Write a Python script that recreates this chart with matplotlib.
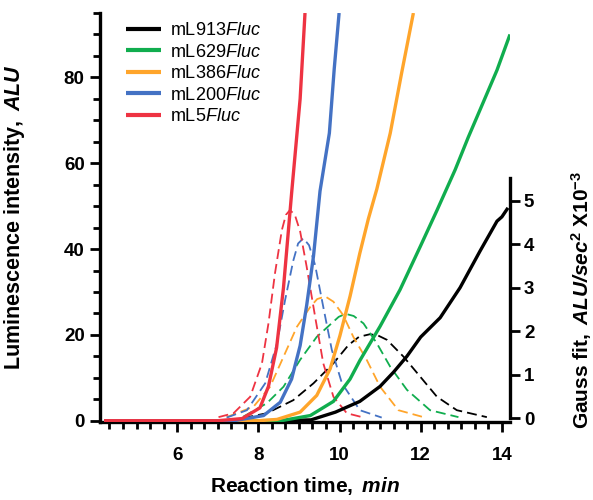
import matplotlib
matplotlib.use('Agg')
import matplotlib.pyplot as plt
from matplotlib.ticker import MultipleLocator

plt.rcParams['font.family'] = ['Liberation Sans', 'DejaVu Sans']
plt.rcParams['mathtext.fontset'] = 'custom'
plt.rcParams['mathtext.rm'] = 'Liberation Sans:weight=normal'
plt.rcParams['mathtext.it'] = 'Liberation Sans:style=italic:weight=normal'
plt.rcParams['mathtext.bf'] = 'Liberation Sans:weight=bold'
plt.rcParams['mathtext.bfit'] = 'Liberation Sans:style=italic:weight=bold'

# Luminescence curves (left axis, ALU)
labels = ['mL913', 'mL629', 'mL386', 'mL200', 'mL5']
colors = ['#000000', '#10ad4e', '#ffa52b', '#4472c4', '#ee3342']

black_t = [4.2, 8.5, 9.3, 9.9, 10.5, 11.0, 11.33, 11.66, 12.0, 12.48, 12.97, 13.46, 13.88, 14.0, 14.15]
black_y = [0, 0, 0.2, 2.0, 4.5, 8.0, 11.3, 15.0, 19.5, 24.0, 31.0, 39.5, 46.5, 47.5, 49.6]

green_t = [4.2, 8.0, 8.62, 9.28, 9.85, 10.26, 10.5, 11.0, 11.49, 11.99, 12.4, 12.85, 13.17, 13.46, 13.88, 14.2]
green_y = [0, 0, 0.1, 1.2, 4.5, 9.7, 14.0, 22.0, 30.5, 40.6, 49.0, 58.5, 66.0, 72.4, 81.7, 90.0]

orange_t = [4.2, 8.0, 8.46, 9.03, 9.44, 9.77, 10.01, 10.26, 10.5, 10.71, 10.92, 11.25, 11.53, 11.82]
orange_y = [0, 0, 0.3, 2.0, 5.9, 12.1, 19.8, 29.0, 39.0, 47.0, 54.0, 67.0, 81.0, 95.0]

blue_t = [4.2, 7.4, 8.13, 8.54, 8.82, 9.03, 9.19, 9.36, 9.52, 9.75, 9.87, 9.99]
blue_y = [0, 0, 1.2, 4.3, 9.7, 17.5, 26.8, 38.4, 53.5, 67.0, 82.0, 95.0]

red_t = [4.2, 7.0, 7.6, 8.04, 8.25, 8.45, 8.62, 8.82, 9.03, 9.15]
red_y = [0, 0, 0.5, 3.0, 8.0, 17.0, 31.0, 53.0, 75.0, 95.0]

# Gauss fits (right axis, ALU/sec^2 x10^-3)
black_gt = [7.63, 8.21, 8.86, 9.36, 9.85, 10.22, 10.48, 10.75, 10.95, 11.17, 11.58, 11.99, 12.4, 12.89, 13.63]
black_gy = [0.0, 0.11, 0.41, 0.8, 1.26, 1.68, 1.87, 1.93, 1.9, 1.8, 1.41, 0.95, 0.49, 0.18, 0.02]

green_gt = [7.63, 8.21, 8.62, 9.03, 9.44, 9.85, 9.98, 10.15, 10.35, 10.59, 10.92, 11.25, 11.66, 12.23, 12.93]
green_gy = [0.03, 0.34, 0.72, 1.34, 1.87, 2.22, 2.33, 2.4, 2.35, 2.18, 1.72, 1.18, 0.65, 0.18, 0.02]

orange_gt = [7.22, 7.88, 8.29, 8.62, 8.95, 9.28, 9.45, 9.65, 9.85, 10.09, 10.34, 10.67, 11.0, 11.45, 12.03]
orange_gy = [0.02, 0.26, 0.72, 1.41, 2.1, 2.56, 2.74, 2.8, 2.68, 2.37, 1.87, 1.34, 0.72, 0.18, 0.03]

blue_gt = [7.22, 7.72, 8.17, 8.46, 8.66, 8.86, 8.98, 9.11, 9.25, 9.4, 9.6, 9.81, 10.06, 10.5, 11.04]
blue_gy = [0.01, 0.18, 0.8, 1.72, 2.72, 3.62, 4.02, 4.14, 3.98, 3.52, 2.56, 1.57, 0.8, 0.18, 0.01]

red_gt = [7.02, 7.39, 7.8, 8.09, 8.25, 8.41, 8.58, 8.68, 8.78, 8.9, 9.03, 9.19, 9.4, 9.6, 9.85, 10.18, 10.6]
red_gy = [0.02, 0.11, 0.49, 1.26, 2.18, 3.33, 4.33, 4.68, 4.79, 4.68, 4.3, 3.49, 2.33, 1.26, 0.49, 0.11, 0.01]

solid = [(black_t, black_y), (green_t, green_y), (orange_t, orange_y), (blue_t, blue_y), (red_t, red_y)]
gauss = [(black_gt, black_gy), (green_gt, green_gy), (orange_gt, orange_gy), (blue_gt, blue_gy), (red_gt, red_gy)]

fig = plt.figure(figsize=(5.93, 5.0), dpi=100)
ax = fig.add_axes([100 / 593, 78 / 500, 410 / 593, 409 / 500])
ax2 = ax.twinx()

# dashed gauss fits underneath
for (t, g), c in zip(gauss, colors):
    ax2.plot(t, g, color=c, lw=1.3, dashes=(5.5, 2.8), zorder=1)

ax.set_zorder(ax2.get_zorder() + 1)
ax.patch.set_visible(False)

handles = []
for (t, y), c in zip(solid, colors):
    h, = ax.plot(t, y, color=c, lw=2.4, solid_capstyle='butt', zorder=3)
    handles.append(h)

ax.set_xlim(4.1, 14.2)
ax.set_ylim(-0.3, 95)
ax2.set_ylim(-0.092, 9.33)

for a in (ax, ax2):
    a.spines['top'].set_visible(False)
ax.spines['right'].set_visible(False)
ax2.spines['left'].set_visible(False)
ax2.spines['bottom'].set_visible(False)
for s in ('left', 'bottom'):
    ax.spines[s].set_linewidth(2.4)
ax2.spines['right'].set_linewidth(2.4)
ax2.spines['right'].set_bounds(0, 5.53)

ax.xaxis.set_major_locator(MultipleLocator(2))
ax.xaxis.set_minor_locator(MultipleLocator(1 / 3))
ax.yaxis.set_major_locator(MultipleLocator(20))
ax.yaxis.set_minor_locator(MultipleLocator(5))
ax2.set_yticks([0, 1, 2, 3, 4, 5])

ax.tick_params(axis='both', which='major', direction='out', length=7, width=2, labelsize=13.5)
ax.tick_params(axis='both', which='minor', direction='out', length=5, width=2)
ax.tick_params(axis='x', which='major', pad=11)
ax.tick_params(axis='y', which='major', pad=4)
ax2.tick_params(axis='y', which='major', direction='out', length=7, width=2, labelsize=13.5, pad=3)
for lab in ax.get_xticklabels() + ax.get_yticklabels() + ax2.get_yticklabels():
    lab.set_fontweight('bold')

ax.set_xlabel(r'$\mathbf{Reaction\ time,}\ \mathbfit{min}$', fontsize=15)
ax.xaxis.set_label_coords(0.5, -0.13)
ax.set_ylabel(r'$\mathbf{Luminescence\ intensity,}\ \mathbfit{ALU}$', fontsize=15.5)
ax.yaxis.set_label_coords(-0.178, 0.5)
fig.text(582 / 593, 0.4, r'$\mathbf{Gauss\ fit,}\ \mathbfit{ALU/sec}^{\mathbf{2}}\ \mathbf{X10}^{\mathbf{-3}}$',
         rotation=90, ha='center', va='center', fontsize=15)

leg = ax.legend(handles, [l + r'$\mathit{Fluc}$' for l in labels], loc='upper left',
                bbox_to_anchor=(126 / 593, 0.956), bbox_transform=fig.transFigure,
                frameon=False, borderpad=0, borderaxespad=0, handlelength=1.95,
                handletextpad=0.5, labelspacing=0.25, prop={'size': 13})
for h in leg.get_lines():
    h.set_linewidth(3)

fig.savefig('out.png', dpi=100)
